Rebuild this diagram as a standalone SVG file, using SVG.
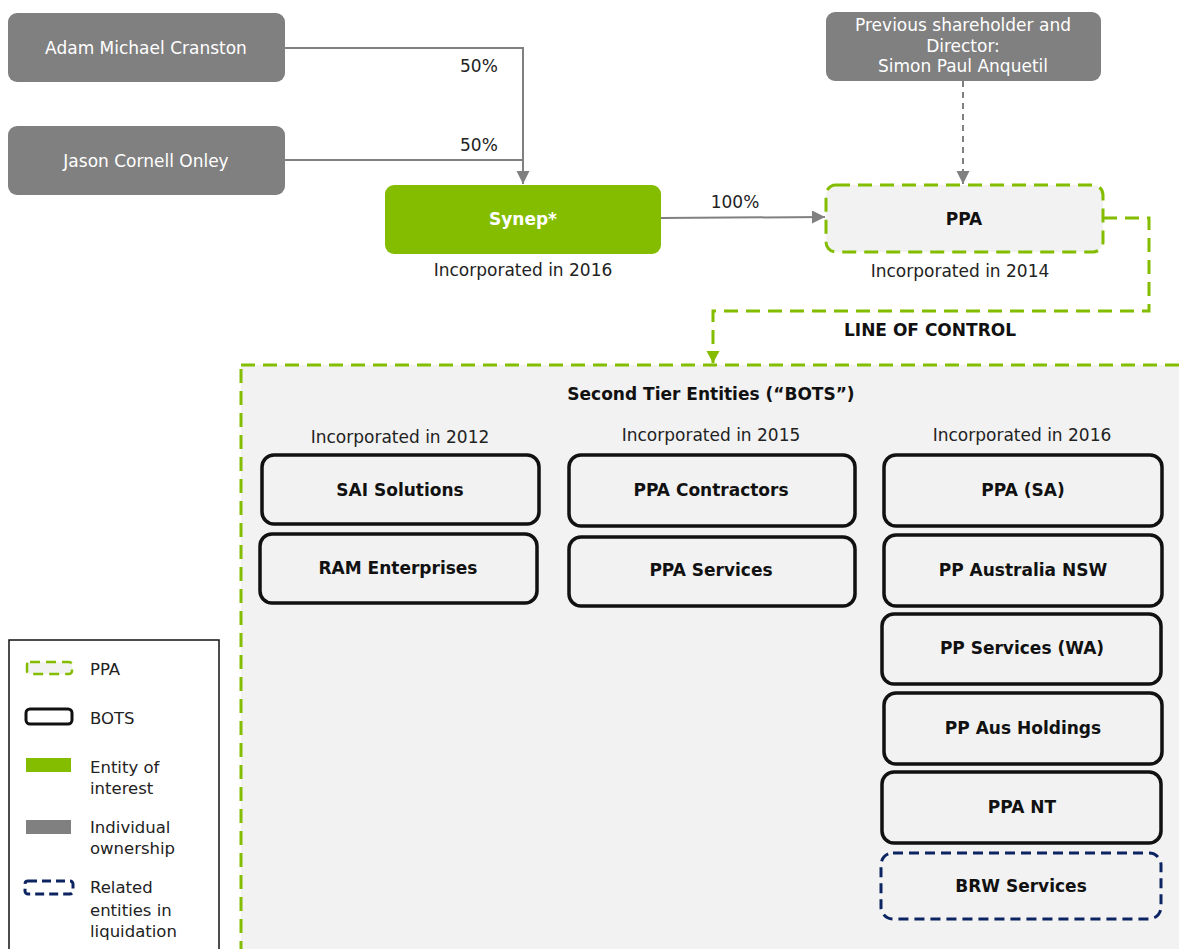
<svg xmlns="http://www.w3.org/2000/svg" width="1179" height="949" viewBox="0 0 1179 949">
<style>
text{font-family:"DejaVu Sans","Liberation Sans",sans-serif;font-size:17px;text-anchor:middle;dominant-baseline:central}
.w{fill:#ffffff}
.d{fill:#222222}
.b{font-weight:bold;fill:#111111}
.gray{fill:#808080}
.bots{fill:#f2f2f2;stroke:#111111;stroke-width:3.5}
.ppa{fill:#f2f2f2;stroke:#84bd00;stroke-width:3;stroke-dasharray:14 8}
.brw{fill:#f2f2f2;stroke:#0c2461;stroke-width:3;stroke-dasharray:10 6}
.conn{fill:none;stroke:#808080;stroke-width:2}
.lg{text-anchor:start;font-size:16.5px}
</style>
<defs>
<marker id="ag" markerWidth="14" markerHeight="14" refX="13" refY="6.5" orient="auto" markerUnits="userSpaceOnUse"><path d="M0,0 L13,6.5 L0,13 z" fill="#808080"/></marker>
<marker id="agr" markerWidth="14" markerHeight="14" refX="12" refY="6.5" orient="auto" markerUnits="userSpaceOnUse"><path d="M0,0 L12,6.5 L0,13 z" fill="#84bd00"/></marker>
</defs>

<g id="container">
<rect x="241" y="365" width="960" height="600" fill="#f2f2f2" stroke="#84bd00" stroke-width="3" stroke-dasharray="14 8"/>
<text x="711" y="394" class="b">Second Tier Entities (“BOTS”)</text>
<text x="400" y="437" class="d">Incorporated in 2012</text>
<text x="711" y="435" class="d">Incorporated in 2015</text>
<text x="1022" y="435" class="d">Incorporated in 2016</text>
</g>

<g id="connectors">
<polyline class="conn" points="285,48 523,48 523,184" marker-end="url(#ag)"/>
<polyline class="conn" points="285,160 523,160"/>
<line class="conn" x1="661" y1="218" x2="825" y2="217" marker-end="url(#ag)"/>
<line class="conn" x1="963" y1="81" x2="963" y2="184" stroke-dasharray="6 5" marker-end="url(#ag)"/>
<polyline points="1103,218 1149,218 1149,311 713,311 713,363" fill="none" stroke="#84bd00" stroke-width="3" stroke-dasharray="14 8" marker-end="url(#agr)"/>
<text x="460" y="66" class="d" style="text-anchor:start">50%</text>
<text x="460" y="145" class="d" style="text-anchor:start">50%</text>
<text x="735" y="202" class="d">100%</text>
<text x="930" y="330" class="b">LINE OF CONTROL</text>
</g>

<g id="adam"><rect x="8" y="13" width="277" height="69" rx="9" class="gray"/><text x="146" y="48" class="w">Adam Michael Cranston</text></g>
<g id="jason"><rect x="8" y="126" width="277" height="69" rx="9" class="gray"/><text x="146" y="161" class="w">Jason Cornell Onley</text></g>
<g id="simon"><rect x="826" y="12" width="275" height="69" rx="9" class="gray"/><text x="963" y="25" class="w">Previous shareholder and</text><text x="963" y="46" class="w">Director:</text><text x="963" y="66" class="w">Simon Paul Anquetil</text></g>
<g id="synep"><rect x="385" y="185" width="276" height="69" rx="9" fill="#84bd00"/><text x="523" y="219" class="w" font-weight="bold">Synep*</text><text x="523" y="270" class="d">Incorporated in 2016</text></g>
<g id="ppa"><rect x="826" y="185" width="277" height="67" rx="10" class="ppa"/><text x="964" y="219" class="b">PPA</text><text x="960" y="271" class="d">Incorporated in 2014</text></g>

<g id="sai"><rect x="262" y="455" width="277" height="69" rx="12" class="bots"/><text x="400" y="490" class="b">SAI Solutions</text></g>
<g id="ram"><rect x="260" y="534" width="277" height="69" rx="12" class="bots"/><text x="398" y="568" class="b">RAM Enterprises</text></g>
<g id="ppacon"><rect x="569" y="455" width="286" height="71" rx="12" class="bots"/><text x="711" y="490" class="b">PPA Contractors</text></g>
<g id="ppaserv"><rect x="569" y="537" width="286" height="69" rx="12" class="bots"/><text x="711" y="570" class="b">PPA Services</text></g>
<g id="ppasa"><rect x="884" y="455" width="278" height="71" rx="12" class="bots"/><text x="1023" y="490" class="b">PPA (SA)</text></g>
<g id="ppnsw"><rect x="884" y="535" width="278" height="71" rx="12" class="bots"/><text x="1023" y="570" class="b">PP Australia NSW</text></g>
<g id="ppwa"><rect x="882" y="614" width="279" height="70" rx="12" class="bots"/><text x="1022" y="648" class="b">PP Services (WA)</text></g>
<g id="ppaus"><rect x="884" y="693" width="278" height="71" rx="12" class="bots"/><text x="1023" y="728" class="b">PP Aus Holdings</text></g>
<g id="ppant"><rect x="882" y="772" width="279" height="71" rx="12" class="bots"/><text x="1022" y="807" class="b">PPA NT</text></g>
<g id="brw"><rect x="881" y="853" width="280" height="66" rx="12" class="brw"/><text x="1021" y="886" class="b">BRW Services</text></g>

<g id="legend">
<rect x="9" y="640" width="210" height="320" fill="#ffffff" stroke="#111111" stroke-width="1.5"/>
<rect x="27" y="662" width="45" height="12" rx="3" fill="#f2f2f2" stroke="#84bd00" stroke-width="2.5" stroke-dasharray="10 6"/>
<text x="90" y="669" class="d lg">PPA</text>
<rect x="26" y="709" width="46" height="15" rx="4" fill="#ffffff" stroke="#111111" stroke-width="3"/>
<text x="90" y="718" class="d lg">BOTS</text>
<rect x="26" y="758" width="45" height="14" fill="#84bd00"/>
<text x="90" y="767" class="d lg">Entity of</text>
<text x="90" y="788" class="d lg">interest</text>
<rect x="26" y="820" width="45" height="14" fill="#808080"/>
<text x="90" y="827" class="d lg">Individual</text>
<text x="90" y="848" class="d lg">ownership</text>
<rect x="25" y="881" width="48" height="13" rx="3" fill="#ffffff" stroke="#0c2461" stroke-width="3" stroke-dasharray="9 5"/>
<text x="90" y="887" class="d lg">Related</text>
<text x="90" y="910" class="d lg">entities in</text>
<text x="90" y="931" class="d lg">liquidation</text>
</g>
</svg>
